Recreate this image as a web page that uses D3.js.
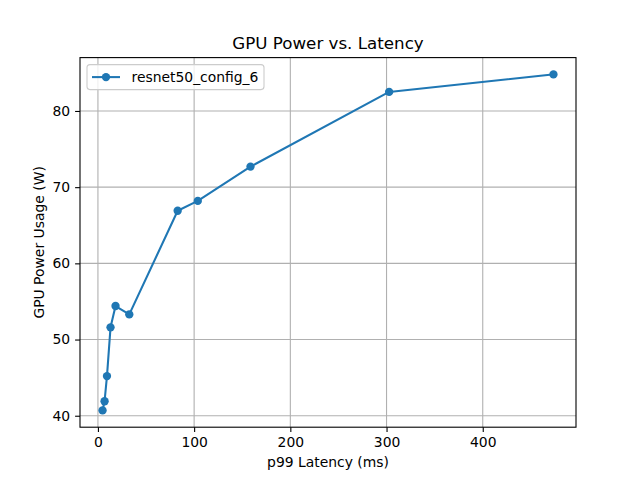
<!DOCTYPE html>
<html lang="en">
<head>
<meta charset="utf-8">
<title>GPU Power vs. Latency</title>
<script src="https://d3js.org/d3.v7.min.js"></script>
<style>
 body { margin: 0; background: #fff; }
 svg text { font-family: "DejaVu Sans", sans-serif; }
</style>
</head>
<body>
<script>
// data
var seriesName = "resnet50_config_6";
var latency = [4.8, 6.9, 9.4, 13.1, 18.3, 32.6, 82.9, 103.8, 158.6, 302.7, 473.5];
var power = [40.7, 41.9, 45.2, 51.6, 54.4, 53.3, 66.9, 68.2, 72.7, 82.5, 84.8];
var xTicks = [0, 100, 200, 300, 400];
var yTicks = [40, 50, 60, 70, 80];

var W = 640, H = 480;
var margin = {top: 57.6, right: 64, bottom: 52.8, left: 80};
var width = W - margin.left - margin.right;
var height = H - margin.top - margin.bottom;
var blue = "#1f77b4";

var data = latency.map(function (d, i) { return {x: d, y: power[i]}; });

// matplotlib-like 5% padding
function pad(ext) {
    var r = ext[1] - ext[0];
    return [ext[0] - r * 0.05, ext[1] + r * 0.05];
}

var x = d3.scaleLinear().domain(pad(d3.extent(latency))).range([0, width]);
var y = d3.scaleLinear().domain(pad(d3.extent(power))).range([height, 0]);

var svg = d3.select("body").append("svg")
    .attr("width", W)
    .attr("height", H);

var g = svg.append("g")
    .attr("transform", "translate(" + margin.left + "," + margin.top + ")");

// grid
g.append("g").selectAll("line").data(xTicks).enter().append("line")
    .attr("x1", function (d) { return x(d); })
    .attr("x2", function (d) { return x(d); })
    .attr("y1", 0).attr("y2", height)
    .attr("stroke", "#b0b0b0").attr("stroke-width", 1.1);
g.append("g").selectAll("line").data(yTicks).enter().append("line")
    .attr("y1", function (d) { return y(d); })
    .attr("y2", function (d) { return y(d); })
    .attr("x1", 0).attr("x2", width)
    .attr("stroke", "#b0b0b0").attr("stroke-width", 1.1);

// axes
var xAxis = g.append("g")
    .attr("transform", "translate(0," + height + ")")
    .call(d3.axisBottom(x).tickValues(xTicks).tickSize(4.9).tickPadding(4.9).tickSizeOuter(0));
var yAxis = g.append("g")
    .call(d3.axisLeft(y).tickValues(yTicks).tickSize(4.9).tickPadding(4.9).tickSizeOuter(0));
[xAxis, yAxis].forEach(function (a) {
    a.select(".domain").remove();
    a.selectAll("line").attr("stroke", "#000").attr("stroke-width", 1.1);
    a.selectAll("text").attr("font-size", "13.9px").attr("fill", "#000")
        .attr("font-family", "DejaVu Sans, sans-serif");
});

// frame
g.append("rect")
    .attr("width", width).attr("height", height)
    .attr("fill", "none").attr("stroke", "#000").attr("stroke-width", 1.1);

// line + markers
var line = d3.line().x(function (d) { return x(d.x); }).y(function (d) { return y(d.y); });
g.append("path").datum(data)
    .attr("d", line)
    .attr("fill", "none")
    .attr("stroke", blue)
    .attr("stroke-width", 2.08)
    .attr("stroke-linejoin", "round")
    .attr("stroke-linecap", "square");
g.selectAll(".pt").data(data).enter().append("circle")
    .attr("class", "pt")
    .attr("cx", function (d) { return x(d.x); })
    .attr("cy", function (d) { return y(d.y); })
    .attr("r", 4.17)
    .attr("fill", blue);

// title and labels
svg.append("text")
    .attr("x", margin.left + width / 2).attr("y", margin.top - 9)
    .attr("text-anchor", "middle").attr("font-size", "16.7px")
    .text("GPU Power vs. Latency");
svg.append("text")
    .attr("x", margin.left + width / 2).attr("y", 467)
    .attr("text-anchor", "middle").attr("font-size", "13.9px")
    .text("p99 Latency (ms)");
svg.append("text")
    .attr("transform", "translate(44," + (margin.top + height / 2) + ") rotate(-90)")
    .attr("text-anchor", "middle").attr("font-size", "13.9px")
    .text("GPU Power Usage (W)");

// legend
var leg = g.append("g").attr("transform", "translate(7,7)");
leg.append("rect")
    .attr("width", 177).attr("height", 25)
    .attr("rx", 3).attr("ry", 3)
    .attr("fill", "#fff").attr("fill-opacity", 0.8)
    .attr("stroke", "#cccccc").attr("stroke-width", 1.1);
leg.append("line")
    .attr("x1", 5).attr("x2", 33).attr("y1", 12.5).attr("y2", 12.5)
    .attr("stroke", blue).attr("stroke-width", 2.08);
leg.append("circle")
    .attr("cx", 19).attr("cy", 12.5).attr("r", 4.17).attr("fill", blue);
leg.append("text")
    .attr("x", 44.5).attr("y", 17.5)
    .attr("font-size", "13.9px")
    .text(seriesName);
</script>
</body>
</html>
